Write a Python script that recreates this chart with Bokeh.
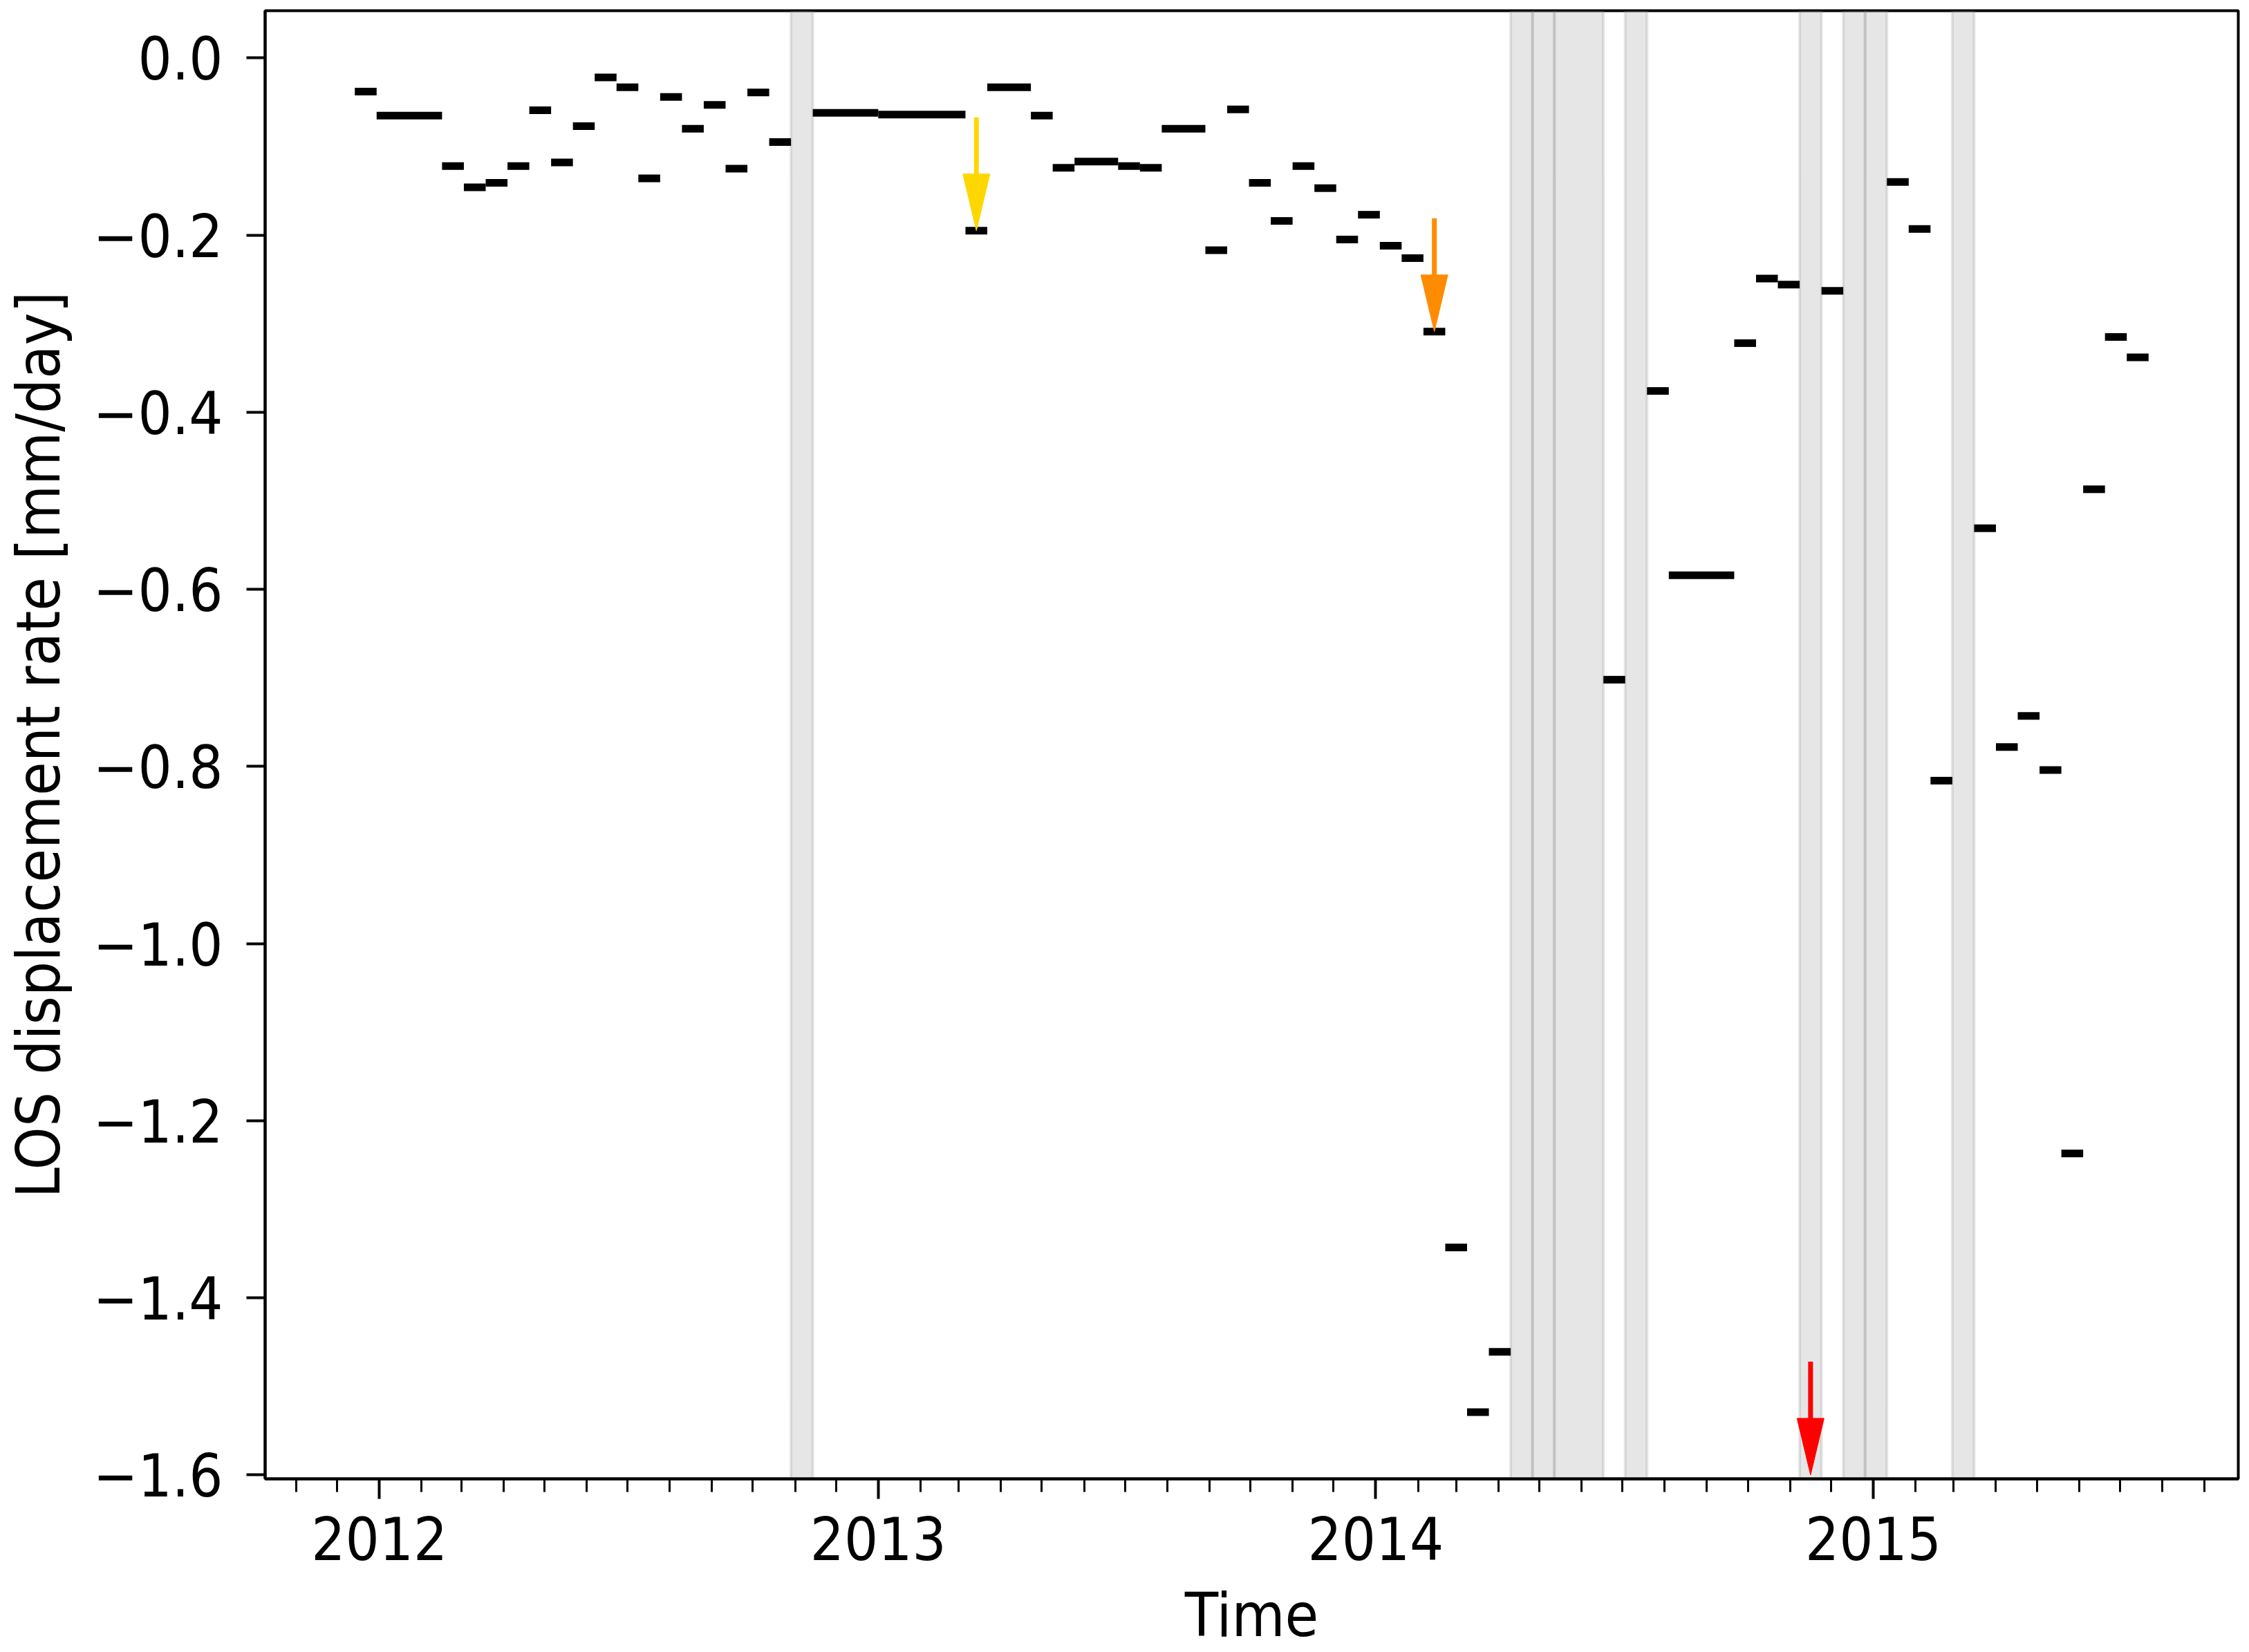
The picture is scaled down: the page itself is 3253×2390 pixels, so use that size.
import numpy as np
import pandas as pd
from bokeh.plotting import figure
from bokeh.models import (FixedTicker, CustomJSTickFormatter, Range1d,
                          BoxAnnotation, ColumnDataSource)
from bokeh.embed import file_html
from bokeh.resources import INLINE

# ---------------- data ----------------
bar_start = ["2011-12-14", "2011-12-30", "2012-02-16", "2012-03-03", "2012-03-19",
             "2012-04-04", "2012-04-20", "2012-05-06", "2012-05-22", "2012-06-07",
             "2012-06-23", "2012-07-09", "2012-07-25", "2012-08-10", "2012-08-26",
             "2012-09-11", "2012-09-27", "2012-10-13",
             "2012-11-14", "2013-01-01", "2013-03-06", "2013-03-22", "2013-04-23",
             "2013-05-09", "2013-05-25", "2013-06-26", "2013-07-12", "2013-07-28",
             "2013-08-29", "2013-09-14", "2013-09-30", "2013-10-16", "2013-11-01",
             "2013-11-17", "2013-12-03", "2013-12-19", "2014-01-04", "2014-01-20",
             "2014-02-05", "2014-02-21", "2014-03-09", "2014-03-25",
             "2014-06-17", "2014-07-19", "2014-08-04", "2014-09-21", "2014-10-07",
             "2014-10-23", "2014-11-24", "2015-01-11", "2015-01-27", "2015-02-12",
             "2015-03-16", "2015-04-01", "2015-04-17", "2015-05-03", "2015-05-19",
             "2015-06-04", "2015-06-20", "2015-07-06"]
bar_end = ["2011-12-30", "2012-02-16", "2012-03-03", "2012-03-19", "2012-04-04",
           "2012-04-20", "2012-05-06", "2012-05-22", "2012-06-07", "2012-06-23",
           "2012-07-09", "2012-07-25", "2012-08-10", "2012-08-26", "2012-09-11",
           "2012-09-27", "2012-10-13", "2012-10-29",
           "2013-01-01", "2013-03-06", "2013-03-22", "2013-04-23", "2013-05-09",
           "2013-05-25", "2013-06-26", "2013-07-12", "2013-07-28", "2013-08-29",
           "2013-09-14", "2013-09-30", "2013-10-16", "2013-11-01", "2013-11-17",
           "2013-12-03", "2013-12-19", "2014-01-04", "2014-01-20", "2014-02-05",
           "2014-02-21", "2014-03-09", "2014-03-25", "2014-04-10",
           "2014-07-03", "2014-08-04", "2014-09-21", "2014-10-07", "2014-10-23",
           "2014-11-08", "2014-12-10", "2015-01-27", "2015-02-12", "2015-02-28",
           "2015-04-01", "2015-04-17", "2015-05-03", "2015-05-19", "2015-06-04",
           "2015-06-20", "2015-07-06", "2015-07-22"]
bar_rate = [-0.038, -0.065, -0.122, -0.146, -0.141,
            -0.122, -0.059, -0.118, -0.077, -0.022,
            -0.033, -0.136, -0.044, -0.080, -0.053,
            -0.125, -0.039, -0.095,
            -0.062, -0.064, -0.195, -0.033, -0.065,
            -0.124, -0.117, -0.122, -0.124, -0.080,
            -0.217, -0.058, -0.141, -0.184, -0.122,
            -0.147, -0.205, -0.177, -0.212, -0.226,
            -0.309, -1.343, -1.529, -1.461,
            -0.702, -0.376, -0.584, -0.322, -0.249,
            -0.256, -0.263, -0.140, -0.193, -0.816,
            -0.531, -0.778, -0.743, -0.804, -1.237,
            -0.487, -0.315, -0.338]

band_start = ["2012-10-29", "2014-04-10", "2014-04-26", "2014-05-12", "2014-07-03",
              "2014-11-08", "2014-12-10", "2014-12-26", "2015-02-28"]
band_end = ["2012-11-14", "2014-04-26", "2014-05-12", "2014-06-17", "2014-07-19",
            "2014-11-24", "2014-12-26", "2015-01-11", "2015-03-16"]

arrow_date = ["2013-03-14", "2014-02-13", "2014-11-16"]
arrow_tail = [-0.067, -0.181, -1.472]
arrow_tip = [-0.195, -0.309, -1.600]
arrow_color = ["#FFD700", "#FF8C00", "#FF0000"]

year_labels = ["2012", "2013", "2014", "2015"]
y_tick_values = [0.0, -0.2, -0.4, -0.6, -0.8, -1.0, -1.2, -1.4, -1.6]

x_label = "Time"
y_label = "LOS displacement rate [mm/day]"

# ---------------- helpers ----------------
DAY_MS = 86400000.0


def to_ms(dates):
    idx = pd.to_datetime(dates)
    return np.asarray((idx - pd.Timestamp("1970-01-01")) // pd.Timedelta(milliseconds=1),
                      dtype=float)


x0 = to_ms(bar_start)
x1 = to_ms(bar_end)
rate = np.asarray(bar_rate, dtype=float)

# autoscale with 5 % margins (like the original)
xmin, xmax = x0.min(), x1.max()
xpad = 0.05 * (xmax - xmin)
ymin, ymax = rate.min(), rate.max()
ypad = 0.05 * (ymax - ymin)

FONT = "DejaVu Sans Condensed"
FS_TICK = "86px"
FS_LABEL = "88px"

p = figure(width=3253, height=2390, output_backend="svg", toolbar_location=None,
           x_axis_type="datetime",
           x_range=Range1d(xmin - xpad, xmax + xpad),
           y_range=Range1d(ymin - ypad, ymax + ypad),
           min_border_left=381, min_border_right=16, min_border_top=15,
           min_border_bottom=250)
p.background_fill_color = "white"
p.border_fill_color = "white"
p.outline_line_color = "black"
p.outline_line_width = 4
p.xgrid.visible = False
p.ygrid.visible = False

# shaded bands
for bs, be in zip(to_ms(band_start), to_ms(band_end)):
    p.add_layout(BoxAnnotation(left=bs, right=be, fill_color="gray", fill_alpha=0.2,
                               line_color="gray", line_alpha=0.2, line_width=4,
                               level="underlay"))

# rate bars
src = ColumnDataSource(dict(x0=x0, x1=x1, y=rate))
p.segment(x0="x0", y0="y", x1="x1", y1="y", source=src, line_color="black",
          line_width=11, line_cap="butt")

# arrows
HEAD_LEN = 0.064            # data units (y)
HEAD_HALF_W = 9.9 * DAY_MS  # data units (x)
ax = to_ms(arrow_date)
tail = np.asarray(arrow_tail, dtype=float)
tip = np.asarray(arrow_tip, dtype=float)
p.segment(x0=ax, y0=tail, x1=ax, y1=tip + HEAD_LEN * 0.9, line_color=arrow_color,
          line_width=7, line_cap="butt")
head_xs = [[x - HEAD_HALF_W, x + HEAD_HALF_W, x] for x in ax]
head_ys = [[t + HEAD_LEN, t + HEAD_LEN, t] for t in tip]
p.patches(head_xs, head_ys, fill_color=arrow_color, line_color=arrow_color, line_width=1)

# x axis
year_ms = to_ms([y + "-01-01" for y in year_labels])
month_ms = to_ms(pd.date_range("2011-11-01", "2015-09-01", freq="MS"))
p.xaxis.ticker = FixedTicker(ticks=list(year_ms), minor_ticks=list(month_ms))
p.xaxis.formatter = CustomJSTickFormatter(code="return String(new Date(tick).getUTCFullYear());")
p.xaxis.axis_label = x_label
p.xaxis.major_tick_out = 29
p.xaxis.major_tick_in = 0
p.xaxis.minor_tick_out = 19
p.xaxis.minor_tick_in = 0
p.xaxis.major_label_standoff = 25
p.xaxis.axis_label_standoff = 25

# y axis
p.yaxis.ticker = FixedTicker(ticks=y_tick_values, minor_ticks=[])
p.yaxis.formatter = CustomJSTickFormatter(
    code="return tick.toFixed(1).replace('-', '\u2212');")
p.yaxis.axis_label = y_label
p.yaxis.major_tick_out = 27
p.yaxis.major_tick_in = 0
p.yaxis.minor_tick_out = 0
p.yaxis.minor_tick_in = 0
p.yaxis.major_label_standoff = 34
p.yaxis.axis_label_standoff = 25

for axis in (p.xaxis, p.yaxis):
    axis.axis_line_color = "black"
    axis.axis_line_width = 4
    axis.major_tick_line_color = "black"
    axis.major_tick_line_width = 4
    axis.minor_tick_line_color = "black"
    axis.minor_tick_line_width = 3
    axis.major_label_text_font = FONT
    axis.major_label_text_font_size = FS_TICK
    axis.major_label_text_color = "black"
    axis.axis_label_text_font = FONT
    axis.axis_label_text_font_size = FS_LABEL
    axis.axis_label_text_font_style = "normal"
    axis.axis_label_text_color = "black"

open("out.html", "w").write(file_html(p, INLINE))
